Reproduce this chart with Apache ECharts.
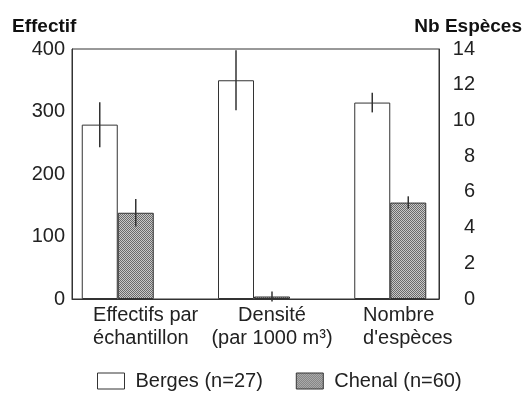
<!DOCTYPE html>
<html><head><meta charset="utf-8">
<script src="https://cdn.jsdelivr.net/npm/echarts@6/dist/echarts.min.js"></script>
<style>html,body{margin:0;padding:0;background:#fff}#c{width:532px;height:394px}</style>
</head><body><div id="c"></div>
<script>
// ---- data ----
const categories = ['Effectifs par\néchantillon', 'Densité\n(par 1000 m³)', "Nombre\nd'espèces"];
const seriesNames = ['Berges (n=27)', 'Chenal (n=60)'];
// left axis (Effectif): first two categories
const bergesLeft = [279, 350];
const bergesLeftErr = [36, 48];
const chenalLeft = [138, 4];
const chenalLeftErr = [22, 8];
// right axis (Nb Espèces): third category
const bergesSpecies = [11.0];
const bergesSpeciesErr = [0.55];
const chenalSpecies = [5.4];
const chenalSpeciesErr = [0.35];
const leftAxisTicks = [0, 100, 200, 300, 400];
const rightAxisTicks = [0, 2, 4, 6, 8, 10, 12, 14];

// ---- styles ----
const FONT = 'Liberation Sans, Arial, sans-serif';
const BAR_W = 36;
const LINE = '#333';
const pc = document.createElement('canvas'); pc.width = 2; pc.height = 2;
const g = pc.getContext('2d');
g.fillStyle = '#c8c8c8'; g.fillRect(0, 0, 2, 2);
g.fillStyle = '#6a6a6a'; g.fillRect(0, 0, 1, 1); g.fillRect(1, 1, 1, 1);
const hatch = { image: pc, repeat: 'repeat' };

const xMin = -0.3358, xMax = 2.3578;
const speciesStart = categories.length - bergesSpecies.length;

function barSeries(name, vals, start, xIdx, yIdx, color) {
  return {
    type: 'bar', name, xAxisIndex: xIdx, yAxisIndex: yIdx, barWidth: BAR_W, barGap: '0%',
    data: vals.map((v, i) => [start + i, v]),
    itemStyle: { color, borderColor: LINE, borderWidth: 1 },
    emphasis: { disabled: true }, silent: true
  };
}
function errSeries(means, errs, start, xIdx, yIdx, side) {
  return {
    type: 'custom', xAxisIndex: xIdx, yAxisIndex: yIdx, z: 5, silent: true,
    data: means.map((m, i) => [start + i, m - errs[i], m + errs[i]]),
    encode: { x: 0, y: [1, 2] },
    renderItem: (p, api) => {
      const a = api.coord([api.value(0), api.value(1)]);
      const b = api.coord([api.value(0), api.value(2)]);
      const dx = side * BAR_W / 2;
      return { type: 'line', shape: { x1: a[0] + dx, y1: a[1], x2: b[0] + dx, y2: b[1] },
               style: { stroke: LINE, lineWidth: 1.5 } };
    }
  };
}

const labelShift = [25, 33, 60];
const labelRichAlign = ['left', 'center', 'left'];

const option = {
  backgroundColor: '#fff',
  animation: false,
  title: [
    { text: 'Effectif', left: 12, top: 17, padding: 0,
      textStyle: { fontSize: 19, fontWeight: 'bold', color: '#111', fontFamily: FONT } },
    { text: 'Nb Espèces', right: 10, top: 17, padding: 0,
      textStyle: { fontSize: 19, fontWeight: 'bold', color: '#111', fontFamily: FONT } }
  ],
  grid: { left: 72, right: 93, top: 49, bottom: 95, show: true, borderColor: LINE, borderWidth: 1, backgroundColor: 'transparent' },
  legend: {
    left: 97, top: 371, padding: 0, itemGap: 33, itemWidth: 27, itemHeight: 16, icon: 'rect',
    textStyle: { fontSize: 20, color: '#222', fontFamily: FONT, padding: [0, 0, 0, 6] },
    data: [
      { name: seriesNames[0], itemStyle: { color: '#fff', borderColor: LINE, borderWidth: 1 } },
      { name: seriesNames[1], itemStyle: { color: hatch, borderColor: LINE, borderWidth: 1 } }
    ],
    selectedMode: false
  },
  xAxis: [
    { type: 'value', min: xMin, max: xMax, position: 'bottom',
      axisLine: { show: true, onZero: false, lineStyle: { color: LINE } },
      axisTick: { show: false }, axisLabel: { show: false }, splitLine: { show: false } },
    { type: 'value', min: xMin, max: xMax, show: false },
    { type: 'category', data: categories.map((c, i) => ({
        value: c,
        textStyle: { padding: [0, 0, 0, labelShift[i]] }
      })),
      position: 'bottom', boundaryGap: true,
      axisLine: { show: false, onZero: false }, axisTick: { show: false }, splitLine: { show: false },
      axisLabel: {
        interval: 0, margin: 5, fontSize: 20, color: '#222', fontFamily: FONT, lineHeight: 23,
        formatter: (v, idx) => v.split('\n').map(l => '{a' + idx + '|' + l + '}').join('\n'),
        rich: {
          a0: { align: labelRichAlign[0], fontSize: 20, lineHeight: 23, fontFamily: FONT, color: '#222' },
          a1: { align: labelRichAlign[1], fontSize: 20, lineHeight: 23, fontFamily: FONT, color: '#222' },
          a2: { align: labelRichAlign[2], fontSize: 20, lineHeight: 23, fontFamily: FONT, color: '#222' }
        }
      } }
  ],
  yAxis: [
    { type: 'value', position: 'left', min: leftAxisTicks[0], max: leftAxisTicks[leftAxisTicks.length - 1],
      interval: leftAxisTicks[1] - leftAxisTicks[0],
      axisLine: { show: true, onZero: false, lineStyle: { color: LINE } }, axisTick: { show: false }, splitLine: { show: false },
      axisLabel: { margin: 7, fontSize: 20, color: '#222', fontFamily: FONT } },
    { type: 'value', position: 'right', min: rightAxisTicks[0], max: rightAxisTicks[rightAxisTicks.length - 1],
      interval: rightAxisTicks[1] - rightAxisTicks[0],
      axisLine: { show: true, onZero: false, lineStyle: { color: LINE } }, axisTick: { show: false }, splitLine: { show: false },
      axisLabel: { margin: 36, align: 'right', fontSize: 20, color: '#222', fontFamily: FONT } }
  ],
  series: [
    barSeries(seriesNames[0], bergesLeft, 0, 0, 0, '#fff'),
    barSeries(seriesNames[1], chenalLeft, 0, 0, 0, hatch),
    barSeries(seriesNames[0], bergesSpecies, speciesStart, 1, 1, '#fff'),
    barSeries(seriesNames[1], chenalSpecies, speciesStart, 1, 1, hatch),
    errSeries(bergesLeft, bergesLeftErr, 0, 0, 0, -1),
    errSeries(chenalLeft, chenalLeftErr, 0, 0, 0, 1),
    errSeries(bergesSpecies, bergesSpeciesErr, speciesStart, 1, 1, -1),
    errSeries(chenalSpecies, chenalSpeciesErr, speciesStart, 1, 1, 1)
  ]
};
const chart = echarts.init(document.getElementById('c'), null, { renderer: 'canvas' });
chart.setOption(option);
</script>
</body></html>
